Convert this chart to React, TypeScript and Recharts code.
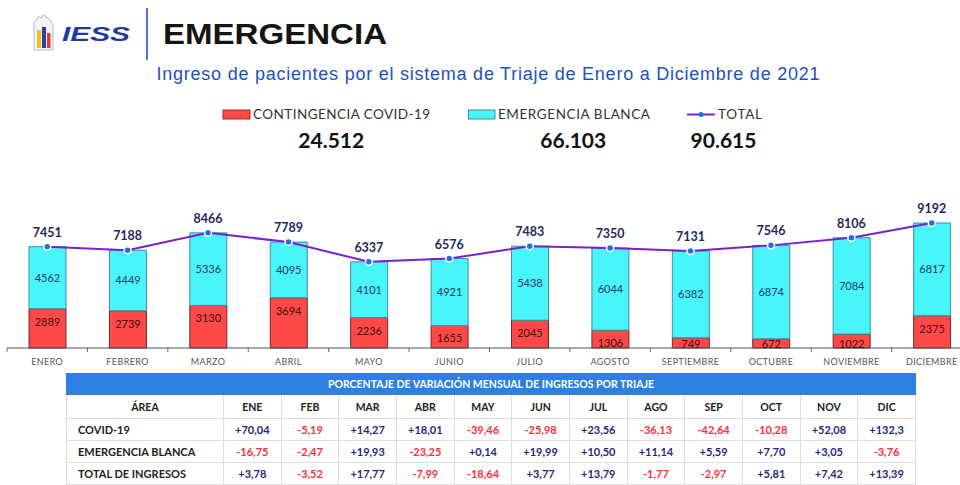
import React from 'react'
import { ComposedChart, Bar, Line, XAxis, YAxis, LabelList } from 'recharts'

const MONTHS = ['ENERO', 'FEBRERO', 'MARZO', 'ABRIL', 'MAYO', 'JUNIO', 'JULIO', 'AGOSTO', 'SEPTIEMBRE', 'OCTUBRE', 'NOVIEMBRE', 'DICIEMBRE']
const COVID = [2889, 2739, 3130, 3694, 2236, 1655, 2045, 1306, 749, 672, 1022, 2375]
const BLANCA = [4562, 4449, 5336, 4095, 4101, 4921, 5438, 6044, 6382, 6874, 7084, 6817]
const TOTAL = [7451, 7188, 8466, 7789, 6337, 6576, 7483, 7350, 7131, 7546, 8106, 9192]

const MONTH_ABBR = ['ENE', 'FEB', 'MAR', 'ABR', 'MAY', 'JUN', 'JUL', 'AGO', 'SEP', 'OCT', 'NOV', 'DIC']
const VAR_COVID = ['+70,04', '-5,19', '+14,27', '+18,01', '-39,46', '-25,98', '+23,56', '-36,13', '-42,64', '-10,28', '+52,08', '+132,3']
const VAR_BLANCA = ['-16,75', '-2,47', '+19,93', '-23,25', '+0,14', '+19,99', '+10,50', '+11,14', '+5,59', '+7,70', '+3,05', '-3,76']
const VAR_TOTAL = ['+3,78', '-3,52', '+17,77', '-7,99', '-18,64', '+3,77', '+13,79', '-1,77', '-2,97', '+5,81', '+7,42', '+13,39']

const VAR_ROWS = [
  { label: 'COVID-19', values: VAR_COVID },
  { label: 'EMERGENCIA BLANCA', values: VAR_BLANCA },
  { label: 'TOTAL DE INGRESOS', values: VAR_TOTAL },
]

const data = MONTHS.map((m, i) => ({ month: m, covid: COVID[i], blanca: BLANCA[i], total: TOTAL[i] }))

const sum = (a: number[]) => a.reduce((s, v) => s + v, 0)
// 24512 -> "24.512"
const fmt = (n: number) => String(n).replace(/\B(?=(\d{3})+(?!\d))/g, '.')

const RED = '#ff4848'
const CYAN = '#48f5fb'
const PURPLE = '#7b20cf'
const DOT_BLUE = '#1f6fe6'
const NAVY = '#1f2a5c'

function MonthTick(props: any) {
  const { x, y, payload, index } = props
  const half = payload?.offset || 40.2
  return (
    <g>
      <line x1={x - half} y1={y} x2={x - half} y2={y + 4} stroke="#666" />
      {index === MONTHS.length - 1 && <line x1={x + half} y1={y} x2={x + half} y2={y + 4} stroke="#666" />}
      <text x={x} y={y + 13} textAnchor="middle" dominantBaseline="central" fontSize={9} fill="#555" letterSpacing={0.4}>
        {payload.value}
      </text>
    </g>
  )
}

// covid value sits just under the top of the red segment; on thin segments it rests on the baseline and gets clipped
function CovidLabel(props: any) {
  const vb = props.viewBox || props
  const { x, y, width, height } = vb
  const id = `clip-covid-${props.index ?? props.value}`
  const cy = Math.min(y + 12.5, y + height - 4.5)
  return (
    <g>
      <defs>
        <clipPath id={id}>
          <rect x={x - 5} y={y - 20} width={width + 10} height={height + 20} />
        </clipPath>
      </defs>
      <text
        x={x + width / 2}
        y={cy}
        textAnchor="middle"
        dominantBaseline="central"
        fontSize={11}
        fill="#3a1010"
        clipPath={`url(#${id})`}
      >
        {props.value}
      </text>
    </g>
  )
}

function Logo() {
  return (
    <g>
      <path d="M34 50 L34 26 Q34 20 37 20 L37 18 Q39 15 41 18 L42 16 Q44 14 46 17 L47 18 Q49 17 50 20 L51 22 Q53 22 53 26 L53 50 Z" fill="#f4f4f4" stroke="#b8b8c8" strokeWidth={1} />
      <rect x={37} y={30} width={4} height={18} fill="#f2c21a" />
      <rect x={42} y={27} width={4} height={21} fill="#2a3fa8" />
      <rect x={47} y={33} width={3.5} height={15} fill="#e23a2a" />
      <text x={62} y={41} fontFamily="Liberation Sans" fontStyle="italic" fontWeight={700} fontSize={20} fill="#1d3a9c" textLength={68} lengthAdjust="spacingAndGlyphs">
        IESS
      </text>
    </g>
  )
}

function Header() {
  return (
    <svg width={960} height={160} style={{ position: 'absolute', left: 0, top: 0 }}>
      <Logo />
      <rect x={146} y={8} width={2} height={52} fill="#4a7ad8" />
      <text x={163} y={43.5} fontFamily="Liberation Sans" fontWeight={700} fontSize={30} fill="#141414" textLength={224} lengthAdjust="spacingAndGlyphs">
        EMERGENCIA
      </text>
      <text x={488} y={80} textAnchor="middle" fontFamily="Liberation Sans" fontSize={18} fill="#1d4fc4" textLength={663}>
        Ingreso de pacientes por el sistema de Triaje de Enero a Diciembre de 2021
      </text>

      <g fontFamily="Lato" fontSize={13.5} fill="#333">
        <rect x={223} y={110} width={27} height={9} fill={RED} stroke="#a02828" />
        <text x={253} y={119} textLength={177}>CONTINGENCIA COVID-19</text>
        <rect x={468.5} y={110} width={26.5} height={9} fill={CYAN} stroke="#3a8f9c" />
        <text x={498} y={119} textLength={152}>EMERGENCIA BLANCA</text>
        <line x1={687} y1={114.5} x2={715} y2={114.5} stroke={PURPLE} strokeWidth={2} />
        <circle cx={701} cy={114.5} r={2.5} fill={DOT_BLUE} />
        <text x={718} y={119} textLength={44}>TOTAL</text>
      </g>
      <g fontFamily="Lato" fontSize={21} fontWeight={700} fill="#111" textAnchor="middle">
        <text x={331.3} y={148}>{fmt(sum(COVID))}</text>
        <text x={573.3} y={148}>{fmt(sum(BLANCA))}</text>
        <text x={723.5} y={148}>{fmt(sum(TOTAL))}</text>
      </g>
    </svg>
  )
}

function VariationTable() {
  const border = '1px solid #dedede'
  return (
    <table
      style={{
        position: 'absolute', left: 66, top: 373, width: 849,
        borderCollapse: 'collapse', tableLayout: 'fixed',
        fontFamily: 'Lato', fontWeight: 700, fontSize: 11,
      }}
    >
      <colgroup>
        <col style={{ width: 157 }} />
        {MONTH_ABBR.map(m => <col key={m} style={{ width: 57.67 }} />)}
      </colgroup>
      <thead>
        <tr style={{ height: 21 }}>
          <th colSpan={13} style={{ background: '#2f7fe0', color: '#fff', fontSize: 10.5, padding: 0, border: '1px solid #2f7fe0' }}>
            PORCENTAJE DE VARIACIÓN MENSUAL DE INGRESOS POR TRIAJE
          </th>
        </tr>
        <tr style={{ height: 24 }}>
          <th style={{ border, padding: 0, color: '#222', fontSize: 10.5 }}>ÁREA</th>
          {MONTH_ABBR.map(m => (
            <th key={m} style={{ border, padding: 0, color: '#222', fontSize: 10.5 }}>{m}</th>
          ))}
        </tr>
      </thead>
      <tbody>
        {VAR_ROWS.map(row => (
          <tr key={row.label} style={{ height: 22 }}>
            <td style={{ border, padding: '0 0 0 11px', color: '#222', textAlign: 'left' }}>{row.label}</td>
            {row.values.map((v, i) => (
              <td key={i} style={{ border, padding: 0, textAlign: 'center', color: v.startsWith('-') ? '#ff2d3d' : '#1e2a78' }}>
                {v}
              </td>
            ))}
          </tr>
        ))}
      </tbody>
    </table>
  )
}

export default function App() {
  return (
    <div style={{ position: 'absolute', left: 0, top: 0, width: 960, height: 485, overflow: 'hidden', background: '#fff', fontFamily: 'Lato' }}>
      <Header />
      <div style={{ position: 'absolute', left: 0, top: 150 }}>
        <ComposedChart width={975} height={222} data={data} margin={{ top: 62, right: 3, bottom: 0, left: 7 }}>
          <XAxis
            dataKey="month"
            height={24}
            tickLine={false}
            tickSize={0}
            tickMargin={0}
            axisLine={{ stroke: '#555' }}
            interval={0}
            tick={<MonthTick />}
          />
          <YAxis hide domain={[0, 10000]} />
          <Bar dataKey="covid" stackId="a" barSize={37} fill={RED} stroke="#6b2a2a" strokeWidth={1} isAnimationActive={false}>
            <LabelList dataKey="covid" content={<CovidLabel />} />
          </Bar>
          <Bar dataKey="blanca" stackId="a" barSize={37} fill={CYAN} stroke="#3f8f9c" strokeWidth={1} isAnimationActive={false}>
            <LabelList dataKey="blanca" position="center" fill="#1a3a6a" fontSize={11} />
          </Bar>
          <Line
            type="linear"
            dataKey="total"
            stroke={PURPLE}
            strokeWidth={2}
            dot={{ r: 3.5, fill: DOT_BLUE, stroke: '#fff', strokeWidth: 1.5 }}
            isAnimationActive={false}
          >
            <LabelList dataKey="total" position="top" offset={10} fill={NAVY} fontSize={12.5} fontWeight={700} />
          </Line>
        </ComposedChart>
      </div>
      <VariationTable />
    </div>
  )
}
